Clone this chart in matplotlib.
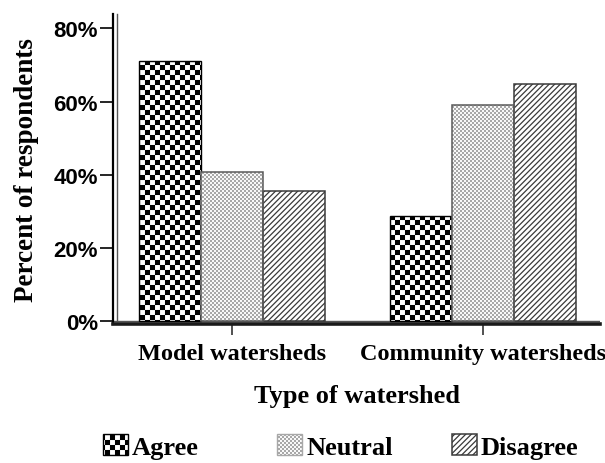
import warnings
import numpy as np
import matplotlib
matplotlib.use("Agg")
import matplotlib.pyplot as plt
import matplotlib.hatch as mhatch
from matplotlib.path import Path
from matplotlib.patches import Patch
from matplotlib.ticker import PercentFormatter, MultipleLocator
from matplotlib.transforms import offset_copy

warnings.filterwarnings("ignore")

categories = ["Model watersheds", "Community watersheds"]
responses = ["Agree", "Neutral", "Disagree"]
agree = [71.2, 28.8]
neutral = [40.8, 59.0]
disagree = [35.4, 64.7]


# checkerboard hatch: 'c' = coarse squares, 'k' = fine stipple
class CheckerHatch(mhatch.HatchPatternBase):
    sizes = {'c': 20, 'k': 50}

    def __init__(self, hatch, density):
        self.n = 0
        for ch, n in self.sizes.items():
            if ch in hatch:
                self.n = n
        self.cells = [(i, j) for i in range(self.n) for j in range(self.n)
                      if (i + j) % 2 == 0]
        self.num_vertices = len(self.cells) * 5

    def set_vertices_and_codes(self, vertices, codes):
        n = self.n
        for k, (i, j) in enumerate(self.cells):
            x0, x1 = i / n, (i + 1) / n
            y0, y1 = j / n, (j + 1) / n
            vertices[5 * k:5 * k + 5] = [(x0, y0), (x1, y0), (x1, y1), (x0, y1), (x0, y0)]
            codes[5 * k:5 * k + 5] = [Path.MOVETO, Path.LINETO, Path.LINETO,
                                      Path.LINETO, Path.CLOSEPOLY]


mhatch._hatch_types.append(CheckerHatch)


def hatch_lw(patches, lw):
    for p in patches:
        if hasattr(p, 'set_hatch_linewidth'):
            p.set_hatch_linewidth(lw)


plt.rcParams['font.family'] = ['Liberation Serif', 'DejaVu Serif']
plt.rcParams['font.weight'] = 'bold'
plt.rcParams['axes.labelweight'] = 'bold'
plt.rcParams['hatch.linewidth'] = 1.0

styles = {
    "Agree": dict(hatch='c', edgecolor='black', lw=1.0, hlw=0.05),
    "Neutral": dict(hatch='k', edgecolor='#a8a8a8', lw=0, hlw=0.05),
    "Disagree": dict(hatch='//////', edgecolor='#3a3a3a', lw=1.1, hlw=0.9),
}

x = np.arange(len(categories))
w = 0.247

fig, ax = plt.subplots(figsize=(6.05, 4.64), dpi=100)
fig.subplots_adjust(left=0.187, right=0.992, bottom=0.30, top=0.968)

handles = []
for k, (name, vals) in enumerate(zip(responses, [agree, neutral, disagree])):
    st = styles[name]
    bars = ax.bar(x + (k - 1) * w, vals, w, facecolor='white', edgecolor=st['edgecolor'],
                  hatch=st['hatch'], lw=st['lw'], zorder=3)
    hatch_lw(bars, st['hlw'])
    if name == "Neutral":
        ax.bar(x + (k - 1) * w, vals, w, fill=False, edgecolor='#5a5a5a', lw=1.1, zorder=4)
    h = Patch(facecolor='white', edgecolor=st['edgecolor'], hatch=st['hatch'],
              lw=max(st['lw'], 1.0))
    handles.append(h)

ax.set_xlim(-0.474, 1.466)
ax.set_ylim(-0.8, 84)

ax.spines['top'].set_visible(False)
ax.spines['right'].set_visible(False)
ax.spines['left'].set_linewidth(1.6)
ax.spines['bottom'].set_linewidth(2.6)
ax.spines['bottom'].set_color('#1a1a1a')

# inner frame lines (double axis look)
ax.axhline(0, color='#555555', lw=1.0, zorder=2)
inner = offset_copy(ax.get_yaxis_transform(), fig=fig, x=4, y=0, units='dots')
ax.plot([0, 0], [0, 84], color='#555555', lw=1.0, transform=inner, clip_on=False, zorder=2)

ax.yaxis.set_major_locator(MultipleLocator(20))
ax.yaxis.set_major_formatter(PercentFormatter(decimals=0))
ax.set_xticks(x, categories)

ax.tick_params(axis='y', length=9.5, width=1.2, pad=1.5, labelsize=16)
ax.tick_params(axis='x', length=8, width=1.2, color='#333333', pad=6, labelsize=17.5)
for lbl in ax.get_yticklabels():
    lbl.set_fontfamily('Liberation Sans')
    lbl.set_fontweight('bold')

ax.set_ylabel("Percent of respondents", fontsize=19.5, labelpad=10)
ax.set_xlabel("Type of watershed", fontsize=19, labelpad=14)

for h, name, xpos in zip(handles, responses, [103, 277, 452]):
    st = styles[name]
    leg = fig.legend(handles=[h], labels=[name], loc='center left',
                     bbox_to_anchor=(xpos / 605, 0.035), frameon=False,
                     fontsize=19, handlelength=0.95, handleheight=0.85,
                     handletextpad=0.15, borderpad=0, borderaxespad=0)
    hatch_lw(leg.get_patches(), st['hlw'])

fig.savefig("out.png", dpi=100)
